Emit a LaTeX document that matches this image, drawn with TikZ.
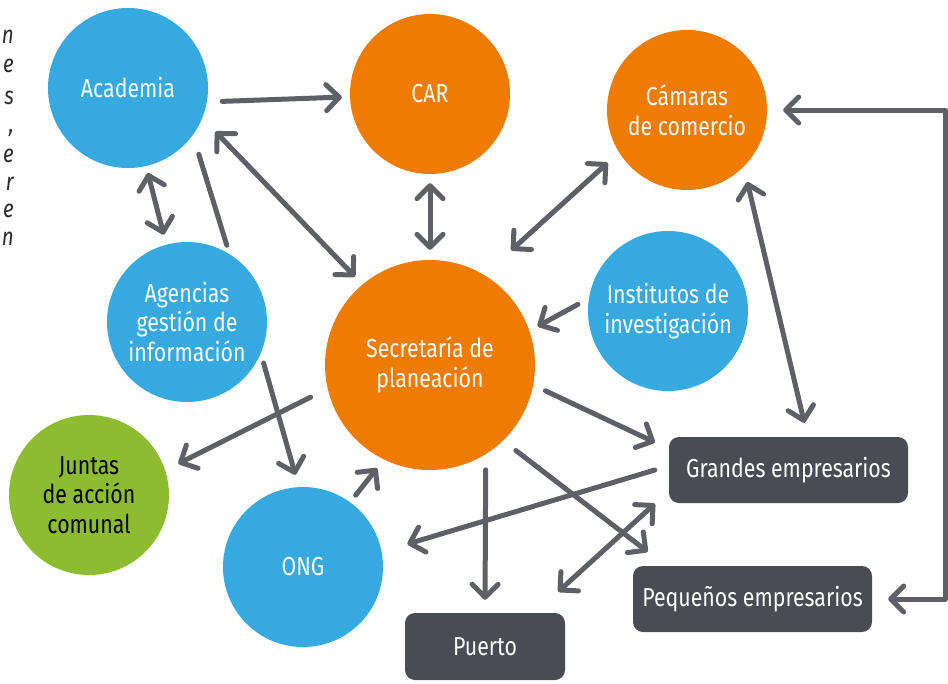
\documentclass[tikz,border=0pt]{standalone}
\usepackage{fontspec}
\setmainfont{Fira Sans}[FakeStretch=0.82]
\usetikzlibrary{arrows.meta}
\definecolor{cblue}{HTML}{36A9E0}
\definecolor{corange}{HTML}{EF7B00}
\definecolor{cgreen}{HTML}{8CBD31}
\definecolor{cdark}{HTML}{4A4C54}
\definecolor{carrow}{HTML}{5E6066}
\definecolor{cfrag}{HTML}{2B2B2B}
\begin{document}
\begin{tikzpicture}[x=1pt,y=-1pt,
  circ/.style={circle, minimum size=160pt, inner sep=0pt, text=white, align=center,
    font=\fontsize{26}{29.5}\selectfont},
  bigcirc/.style={circ, minimum size=210pt},
  empbox/.style={rectangle, rounded corners=10pt, fill=cdark, text=white, inner sep=0pt,
    minimum width=239pt, minimum height=66pt, font=\fontsize{26}{29.5}\selectfont},
  conn/.style={line width=5pt, draw=carrow, line cap=round, line join=round},
  onehead/.style={-{Straight Barb[length=13pt,width=26pt,round]}},
  twohead/.style={{Straight Barb[length=13pt,width=26pt,round]}-{Straight Barb[length=13pt,width=26pt,round]}},
  frag/.style={anchor=base east, inner sep=0pt, text=cfrag, font=\itshape\fontsize{25}{25}\selectfont}
]
\useasboundingbox (0,0) rectangle (948,683);
\clip (0,0) rectangle (948,683);

% cropped text fragments at the left edge
\node[frag] (f1) at (14,43) {n};
\node[frag] (f2) at (14,72) {e};
\node[frag] (f3) at (14,104) {s};
\node[frag] (f4) at (14,132) {,};
\node[frag] (f5) at (14,162) {e};
\node[frag] (f6) at (14,190) {r};
\node[frag] (f7) at (14,217) {e};
\node[frag] (f8) at (14,245) {n};

% nodes
\node[circ, fill=cblue] (acad) at (128,88) {Academia};
\node[circ, fill=corange] (car) at (430,94) {CAR};
\node[circ, fill=corange] (cam) at (687,110) {Cámaras\\de comercio};
\node[circ, fill=cblue] (agen) at (187,322) {Agencias\\gestión de\\información};
\node[bigcirc, fill=corange] (sec) at (430,365) {Secretaría de\\planeación};
\node[circ, fill=cblue] (inst) at (668,311) {Institutos de\\investigación};
\node[circ, fill=cgreen, text=black] (junt) at (89,495) {Juntas\\de acción\\comunal};
\node[circ, fill=cblue] (ong) at (303,567) {ONG};
\node[empbox] (grand) at (788.5,470) {Grandes empresarios};
\node[empbox] (peq) at (752.5,599) {Pequeños empresarios};
\node[empbox, minimum width=160pt, minimum height=67pt] (puerto) at (485,646.5) {Puerto};

% connectors
\draw[conn, onehead, shorten <=15.3pt, shorten >=8.1pt] (acad.-10.4) -- (car.182.7);
\draw[conn, twohead, shorten <=18.8pt, shorten >=10.65pt] (acad.-22.4) -- (sec.130.1);
\draw[conn, twohead, shorten <=7.1pt, shorten >=10.25pt] (acad.-77.6) -- (agen.105.5);
\draw[conn, shorten <=9.15pt, shorten >=20pt] (agen.58.6) -- (acad.-36.8);
\draw[conn, twohead, shorten <=9pt, shorten >=10pt] (car.south) -- (sec.north);
\draw[conn, twohead, shorten <=36.5pt, shorten >=15.3pt] (sec.59.9) -- (cam.212.3);
\draw[conn, onehead, shorten <=12.35pt, shorten >=9.3pt] (inst.171) -- (sec.19.9);
\draw[conn, twohead, shorten <=15.65pt, shorten >=14.4pt] (cam.-45.2) -- (grand.60.3);
\draw[conn, twohead, shorten <=16pt, shorten >=16pt] (cam.east) -- ++(178,0) |- (peq.east);
\draw[conn, onehead, shorten <=13.45pt, shorten >=15.4pt] (sec.-11.7) -- (grand.170.3);
\draw[conn, onehead, shorten <=14.6pt, shorten >=26.8pt] (grand.178.5) -- (ong.11.9);
\draw[conn, onehead, shorten <=15.6pt, shorten >=13pt] (sec.-58.4) -- (puerto.north);
\draw[conn, onehead, shorten <=16.1pt, shorten >=23.1pt] (sec.-46.6) -- (peq.159);
\draw[conn, twohead, shorten <=18.8pt, shorten >=31.4pt] (grand.190.6) -- (puerto.34);
\draw[conn, onehead, shorten <=8.85pt, shorten >=11.1pt] (ong.54.5) -- (sec.244);
\draw[conn, onehead, shorten <=18.85pt, shorten >=14.65pt] (sec.193.6) -- (junt.18.7);
\draw[conn, onehead, shorten <=10.1pt, shorten >=12.6pt] (agen.-23.8) -- (ong.93.2);
\end{tikzpicture}
\end{document}
